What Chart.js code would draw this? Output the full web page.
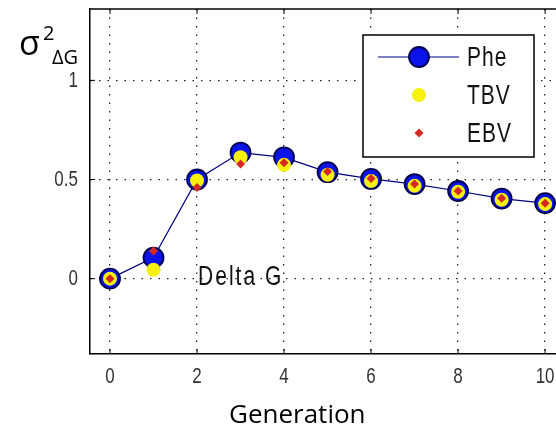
<!DOCTYPE html>
<html>
<head>
<meta charset="utf-8">
<script src="https://cdn.jsdelivr.net/npm/chart.js"></script>
<style>
  html, body { margin: 0; padding: 0; background: #fff; }
  #wrap { width: 556px; height: 431px; }
</style>
</head>
<body>
<div id="wrap"><canvas id="chart" width="556" height="431"></canvas></div>
<script>
// values
const generations = [0, 1, 2, 3, 4, 5, 6, 7, 8, 9, 10];
const phe = [0, 0.106, 0.5, 0.636, 0.612, 0.537, 0.503, 0.477, 0.442, 0.404, 0.381];
const tbv = [0, 0.045, 0.495, 0.612, 0.574, 0.524, 0.492, 0.468, 0.438, 0.398, 0.376];
const ebv = [0, 0.14, 0.46, 0.578, 0.584, 0.54, 0.505, 0.477, 0.442, 0.405, 0.38];
const xTicks = [0, 2, 4, 6, 8, 10];
const xTickLabels = ['0', '2', '4', '6', '8', '10'];
const yTicks = [0, 0.5, 1];
const yTickLabels = ['0', '0.5', '1'];

const sans = '"Liberation Sans", Arial, sans-serif';

// the old figure's text is taller than it is wide
function tallText(ctx, text, x, y, align) {
    ctx.save();
    ctx.translate(x, y);
    ctx.scale(1, 1.35);
    ctx.textAlign = align;
    ctx.textBaseline = 'middle';
    ctx.fillText(text, 0, 0);
    ctx.restore();
}

// frame, inward ticks, tick labels, titles, annotation and the boxed legend
const extras = {
    id: 'extras',
    afterDraw(chart) {
        const ctx = chart.ctx;
        const area = chart.chartArea;
        const xs = chart.scales.x, ys = chart.scales.y;
        ctx.save();
        ctx.strokeStyle = '#000';
        ctx.lineWidth = 1.5;
        ctx.beginPath();
        ctx.moveTo(area.left, area.top);
        ctx.lineTo(area.right, area.top);
        ctx.stroke();

        ctx.lineWidth = 1;
        ctx.beginPath();
        xTicks.forEach(v => {
            const px = xs.getPixelForValue(v);
            ctx.moveTo(px, area.bottom); ctx.lineTo(px, area.bottom - 5);
            ctx.moveTo(px, area.top); ctx.lineTo(px, area.top + 5);
        });
        yTicks.forEach(v => {
            const py = ys.getPixelForValue(v);
            ctx.moveTo(area.left, py); ctx.lineTo(area.left + 5, py);
        });
        ctx.stroke();

        // tick labels
        ctx.fillStyle = '#333';
        ctx.font = '17px ' + sans;
        xTicks.forEach((v, i) => tallText(ctx, xTickLabels[i], xs.getPixelForValue(v), area.bottom + 23, 'center'));
        yTicks.forEach((v, i) => tallText(ctx, yTickLabels[i], area.left - 12, ys.getPixelForValue(v), 'right'));

        // annotation
        ctx.fillStyle = '#111';
        ctx.font = '21px ' + sans;
        ctx.letterSpacing = '2px';
        tallText(ctx, 'Delta G', xs.getPixelForValue(2) + 1, ys.getPixelForValue(0) - 1, 'left');
        ctx.letterSpacing = '0px';

        // axis titles
        ctx.fillStyle = '#000';
        ctx.textAlign = 'left';
        ctx.textBaseline = 'alphabetic';
        ctx.font = '26px "Open Sans", sans-serif';
        ctx.fillText('Generation', 229, 423);
        ctx.font = '34px "Open Sans", sans-serif';
        ctx.fillText('σ', 19, 55);
        ctx.font = '20px "Open Sans", sans-serif';
        ctx.fillText('2', 43, 40);
        ctx.fillText('ΔG', 52, 64);

        // legend
        const box = { x: 363, y: 35, w: 171, h: 122 };
        ctx.fillStyle = '#fff';
        ctx.fillRect(box.x, box.y, box.w, box.h);
        ctx.strokeStyle = '#000';
        ctx.lineWidth = 1.5;
        ctx.strokeRect(box.x, box.y, box.w, box.h);
        const rows = [57, 95, 133];
        const mx = 419;
        chart.data.datasets.forEach((ds, i) => {
            const y = rows[i];
            if (ds.showLine) {
                ctx.strokeStyle = ds.borderColor;
                ctx.lineWidth = ds.borderWidth;
                ctx.beginPath();
                ctx.moveTo(378, y); ctx.lineTo(459, y);
                ctx.stroke();
            }
            ctx.fillStyle = ds.pointBackgroundColor;
            ctx.strokeStyle = ds.pointBorderColor || ds.pointBackgroundColor;
            ctx.lineWidth = ds.pointBorderWidth || 0;
            ctx.beginPath();
            if (ds.pointStyle === 'circle') {
                ctx.arc(mx, y, ds.pointRadius, 0, Math.PI * 2);
            } else {
                const r = ds.pointRadius;
                ctx.moveTo(mx, y - r); ctx.lineTo(mx + r, y);
                ctx.lineTo(mx, y + r); ctx.lineTo(mx - r, y);
                ctx.closePath();
            }
            ctx.fill();
            if (ds.pointBorderWidth) ctx.stroke();
            ctx.fillStyle = '#111';
            ctx.font = '21px ' + sans;
            ctx.letterSpacing = '1px';
            tallText(ctx, ds.label, 467, y + 1, 'left');
            ctx.letterSpacing = '0px';
        });
        ctx.restore();
    }
};

new Chart(document.getElementById('chart'), {
    type: 'scatter',
    data: {
        datasets: [{
            label: 'Phe',
            data: generations.map((g, i) => ({ x: g, y: phe[i] })),
            showLine: true,
            borderColor: '#000080',
            borderWidth: 1.2,
            pointStyle: 'circle',
            pointRadius: 10,
            pointBackgroundColor: '#0a14e8',
            pointBorderColor: '#000050',
            pointBorderWidth: 1.8,
            order: 3
        }, {
            label: 'TBV',
            data: generations.map((g, i) => ({ x: g, y: tbv[i] })),
            showLine: false,
            pointStyle: 'circle',
            pointRadius: 7,
            pointBackgroundColor: '#f6f20e',
            pointBorderWidth: 0,
            order: 2
        }, {
            label: 'EBV',
            data: generations.map((g, i) => ({ x: g, y: ebv[i] })),
            showLine: false,
            pointStyle: 'rectRot',
            pointRadius: 4.5,
            pointBackgroundColor: '#d42a22',
            pointBorderWidth: 0,
            order: 1
        }]
    },
    options: {
        responsive: false,
        animation: false,
        events: [],
        layout: { autoPadding: false, padding: { top: 9, right: 0, bottom: 0, left: 0 } },
        plugins: {
            legend: { display: false },
            tooltip: { enabled: false }
        },
        scales: {
            x: {
                type: 'linear',
                min: -0.46,
                max: 10.25,
                afterBuildTicks: s => { s.ticks = xTicks.map(v => ({ value: v })); },
                afterFit: s => { s.height = 77; s.paddingLeft = 0; s.paddingRight = 0; },
                ticks: { display: false },
                grid: { color: '#222', lineWidth: 1.3, drawTicks: false },
                border: { display: true, color: '#000', width: 1.5, dash: [1.5, 7] }
            },
            y: {
                type: 'linear',
                min: -0.38,
                max: 1.36,
                afterBuildTicks: s => { s.ticks = yTicks.map(v => ({ value: v })); },
                afterFit: s => { s.width = 90; s.paddingTop = 0; s.paddingBottom = 0; },
                ticks: { display: false },
                grid: { color: '#222', lineWidth: 1.3, drawTicks: false },
                border: { display: true, color: '#000', width: 1.5, dash: [1.5, 7] }
            }
        }
    },
    plugins: [extras]
});
</script>
</body>
</html>
